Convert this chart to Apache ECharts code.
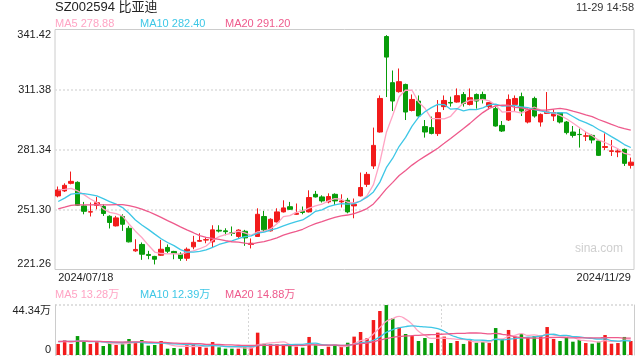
<!DOCTYPE html>
<html>
<head>
<meta charset="utf-8">
<script src="https://cdn.jsdelivr.net/npm/echarts@6/dist/echarts.min.js"></script>
<style>
html,body{margin:0;padding:0;background:#fff;}
#c{width:640px;height:360px;}
</style>
</head>
<body>
<div id="c"></div>
<script>
// ---- data ----
const tradeDays = [
  ["2024/07", [18,19,22,23,24,25,26,29,30,31]],
  ["2024/08", [1,2,5,6,7,8,9,12,13,14,15,16,19,20,21,22,23,26,27,28,29,30]],
  ["2024/09", [2,3,4,5,6,9,10,11,12,13,18,19,20,23,24,25,26,27,30]],
  ["2024/10", [8,9,10,11,14,15,16,17,18,21,22,23,24,25,28,29,30,31]],
  ["2024/11", [1,4,5,6,7,8,11,12,13,14,15,18,19,20,21,22,25,26,27,28,29]]
];
const dates = [];
tradeDays.forEach(([m, days]) => days.forEach(d => dates.push(m + "/" + String(d).padStart(2, "0"))));

const opens = [258.1,260.6,264.4,264.9,253.1,250.0,253.4,252.8,247.9,243.1,
  247.8,241.9,230.6,233.8,228.8,227.8,228.4,232.3,230.3,228.9,
  226.9,232.6,235.4,236.0,235.1,240.9,240.6,239.6,237.8,240.4,
  233.8,237.8,247.8,240.6,245.1,250.1,252.7,248.9,250.4,250.1,
  258.9,257.6,255.1,258.9,255.1,255.9,253.1,258.1,263.9,273.1,
  290.1,337.9,314.8,310.3,313.9,300.9,305.6,292.8,292.3,289.3,
  302.8,304.9,305.1,308.9,303.9,308.9,308.9,302.8,301.8,293.4,
  296.1,303.9,307.8,295.1,306.9,295.1,299.4,298.1,299.8,295.1,
  290.1,288.9,288.0,288.4,285.6,282.4,280.4,280.1,281.4,273.4];
const closes = [261.1,263.4,265.4,253.4,250.4,250.2,254.7,249.3,244.8,247.1,
  243.9,235.1,231.3,228.9,228.3,226.4,231.4,230.4,229.4,226.8,
  231.4,234.9,235.8,236.2,241.1,240.5,240.2,239.3,241.0,237.1,
  234.4,248.9,241.1,246.4,250.1,252.1,251.4,249.4,249.8,257.3,
  257.6,255.6,257.8,255.6,255.6,250.1,253.9,262.3,268.9,283.4,
  306.9,327.6,305.6,315.3,300.1,306.4,298.1,290.1,289.4,299.8,
  305.9,304.6,308.3,304.4,307.3,305.6,306.4,304.8,293.1,290.6,
  306.4,306.9,300.6,301.1,298.1,298.9,300.1,299.8,295.1,289.8,
  288.4,288.8,288.2,286.1,278.4,282.8,280.7,280.6,274.4,275.0];
const lows = [257.4,260.1,263.9,253.1,248.9,247.8,251.4,248.1,241.8,242.8,
  240.6,234.8,230.1,226.1,226.4,223.8,228.1,229.4,226.4,225.6,
  225.6,231.4,235.1,234.4,232.3,239.8,238.4,238.1,237.1,233.1,
  231.8,237.8,240.1,240.3,244.8,249.8,251.1,248.6,248.9,249.8,
  257.3,254.8,254.4,253.6,252.3,249.4,246.9,257.8,262.6,271.6,
  289.8,307.6,300.6,309.8,296.1,300.4,297.8,287.3,288.9,288.1,
  301.1,302.8,304.8,302.8,303.4,301.8,304.4,301.4,292.8,290.1,
  295.6,300.6,298.1,294.4,297.3,292.8,299.2,295.6,294.4,288.9,
  287.3,282.3,285.6,284.4,278.1,281.1,278.1,277.5,273.1,271.8];
const highs = [262.8,264.4,270.3,265.4,255.1,254.8,257.6,253.9,248.4,248.1,
  248.9,243.1,236.4,234.8,230.6,228.1,236.1,233.8,230.6,229.9,
  232.3,238.1,239.4,237.3,243.4,243.4,241.9,242.8,241.4,241.1,
  236.8,251.9,250.6,246.9,251.9,255.9,255.1,254.3,252.8,260.9,
  260.6,258.4,259.4,259.4,258.9,257.1,256.8,269.8,270.1,292.3,
  308.4,338.6,320.9,321.9,314.3,308.9,308.4,296.1,297.8,306.1,
  308.4,307.8,311.9,310.1,311.9,309.4,310.3,305.1,302.8,295.6,
  308.9,308.4,309.8,301.8,307.8,299.4,310.1,301.4,300.1,295.6,
  293.1,291.8,290.3,288.9,286.1,289.4,286.1,281.4,281.8,277.3];
// volume in 万手
const volumes = [9.8,13.0,9.8,16.8,11.8,9.8,11.5,8.0,10.9,8.9,
  10.3,14.2,10.9,13.3,8.3,8.9,12.4,5.6,6.2,5.6,
  8.9,10.6,7.4,6.5,11.5,6.8,5.6,5.6,5.6,7.4,
  6.8,19.8,10.0,9.8,9.5,9.2,8.6,7.4,6.5,16.0,
  8.6,5.3,7.4,8.6,7.4,10.9,16.3,20.4,14.8,31.0,
  39.0,44.3,32.5,24.5,18.6,16.8,12.4,15.1,10.6,19.8,
  16.3,10.6,12.4,9.8,13.9,10.9,11.5,10.6,23.9,14.2,
  22.2,16.3,18.6,15.7,16.8,17.1,24.8,14.2,12.4,15.7,
  11.8,13.3,10.6,10.0,11.8,17.7,10.0,10.6,16.0,12.4];
// closes / volumes of the 19 sessions before the first shown day (estimated, for the moving averages)
const priorCloses = [246,247,249,250,251,253,250,246,244,243,246.5,245.5,249.5,252.0,254.5,261.4,262.9,259.9,259.7];
const priorVolumes = [12,10,13,11,14,12,11,13,15,12,10,11,13,12,14,11,12,13,12];

const yTickMin = 221.26, yTickMax = 341.42, yTickStep = 30.04;
const volMax = 44.34;
const titleText = "SZ002594 比亚迪";
const timeText = "11-29 14:58";
const maTexts = ["MA5 278.88", "MA10 282.40", "MA20 291.20"];
const volMaTexts = ["MA5 13.28万", "MA10 12.39万", "MA20 14.88万"];

// ---- helpers ----
function movingAvg(n, prior, cur) {
  const all = prior.concat(cur);
  const off = prior.length;
  return cur.map((_, i) => {
    let s = 0;
    for (let k = 0; k < n; k++) s += all[off + i - k];
    return +(s / n).toFixed(3);
  });
}
const RED = "#f21b1b", GREEN = "#089c0a";
const C5 = "#ffa4c4", C10 = "#3ec7e6", C20 = "#ee5a8c";
const FONT = "'Liberation Sans', Arial, 'Noto Sans CJK SC', sans-serif";

const kData = opens.map((o, i) => [o, closes[i], lows[i], highs[i]]);
const volData = volumes.map((v, i) => ({value: v, itemStyle: {color: closes[i] >= opens[i] ? RED : GREEN}}));

const chart = echarts.init(document.getElementById('c'), null, {renderer: 'canvas'});
const txt = (text, left, top, color, size, extra) => Object.assign({
  text: text, left: left, top: top, padding: 0,
  textStyle: {color: color, fontSize: size, fontWeight: 'normal', fontFamily: FONT}
}, extra || {});

chart.setOption({
  animation: false,
  backgroundColor: '#fff',
  title: [
    txt(titleText, 55, 1, '#222', 13),
    txt(timeText, null, 2, '#333', 11, {right: 6}),
    txt(maTexts[0], 55, 18, C5, 11),
    txt(maTexts[1], 140, 18, C10, 11),
    txt(maTexts[2], 225, 18, C20, 11),
    txt(volMaTexts[0], 55, 289, C5, 11),
    txt(volMaTexts[1], 140, 289, C10, 11),
    txt(volMaTexts[2], 225, 289, C20, 11)
  ],
  graphic: [{
    type: 'text', right: 17, top: 243,
    style: {text: 'sina.com', fill: '#cfcfcf', font: "12px " + FONT}
  }],
  grid: [
    {left: 55, right: 6, top: 29.5, height: 240, show: true, borderColor: '#cccccc', borderWidth: 1},
    {left: 55, right: 6, top: 305, height: 50, show: false}
  ],
  xAxis: [
    {type: 'category', data: dates, gridIndex: 0, boundaryGap: true,
     axisLine: {show: false}, axisTick: {show: false}, splitLine: {show: false},
     axisLabel: {interval: (i) => i === 0 || i === dates.length - 1, color: '#222', fontSize: 11, fontFamily: FONT,
       margin: 3, alignMinLabel: 'left', alignMaxLabel: 'right', showMinLabel: true, showMaxLabel: true}},
    {type: 'category', data: dates, gridIndex: 1, boundaryGap: true,
     axisLine: {show: false}, axisTick: {show: false}, axisLabel: {show: false},
     splitLine: {show: true, interval: (i) => i === 30 || i === 60, lineStyle: {color: '#d6d6d6', type: [2, 2], width: 1}}}
  ],
  yAxis: [
    {type: 'value', gridIndex: 0, min: yTickMin, max: yTickMax, interval: yTickStep, scale: true,
     axisLine: {show: false}, axisTick: {show: false},
     axisLabel: {color: '#222', fontSize: 11, fontFamily: FONT, margin: 4,
       formatter: (v) => v.toFixed(2), verticalAlignMaxLabel: 'top', verticalAlignMinLabel: 'bottom'},
     splitLine: {show: true, showMinLine: false, showMaxLine: false, lineStyle: {color: '#dddddd', type: [2, 2], width: 1.5}}},
    {type: 'value', gridIndex: 1, min: 0, max: volMax, interval: volMax,
     axisLine: {show: true, lineStyle: {color: '#cccccc'}}, axisTick: {show: false},
     axisLabel: {color: '#222', fontSize: 11, fontFamily: FONT, margin: 4,
       formatter: (v) => v === 0 ? '0' : v.toFixed(2) + '万', verticalAlignMaxLabel: 'top', verticalAlignMinLabel: 'bottom'},
     splitLine: {show: true, lineStyle: {color: '#d6d6d6', type: [2, 2], width: 1.5}}},
    {type: 'value', gridIndex: 1, position: 'right', min: 0, max: volMax, interval: volMax,
     axisLine: {show: true, lineStyle: {color: '#cccccc'}}, axisTick: {show: false},
     axisLabel: {show: false}, splitLine: {show: false}}
  ],
  series: [
    {type: 'candlestick', xAxisIndex: 0, yAxisIndex: 0, data: kData, barWidth: 5,
     itemStyle: {color: RED, color0: GREEN, borderColor: RED, borderColor0: GREEN, borderWidth: 1}},
    {type: 'line', xAxisIndex: 0, yAxisIndex: 0, data: movingAvg(5, priorCloses, closes), symbol: 'none', smooth: false,
     lineStyle: {color: C5, width: 1.3}},
    {type: 'line', xAxisIndex: 0, yAxisIndex: 0, data: movingAvg(10, priorCloses, closes), symbol: 'none',
     lineStyle: {color: C10, width: 1.3}},
    {type: 'line', xAxisIndex: 0, yAxisIndex: 0, data: movingAvg(20, priorCloses, closes), symbol: 'none',
     lineStyle: {color: C20, width: 1.3}},
    {type: 'bar', xAxisIndex: 1, yAxisIndex: 1, data: volData, barWidth: 3.5},
    {type: 'line', xAxisIndex: 1, yAxisIndex: 1, data: movingAvg(5, priorVolumes, volumes), symbol: 'none', smooth: true,
     lineStyle: {color: C5, width: 1.3}},
    {type: 'line', xAxisIndex: 1, yAxisIndex: 1, data: movingAvg(10, priorVolumes, volumes), symbol: 'none', smooth: true,
     lineStyle: {color: C10, width: 1.3}},
    {type: 'line', xAxisIndex: 1, yAxisIndex: 1, data: movingAvg(20, priorVolumes, volumes), symbol: 'none', smooth: true,
     lineStyle: {color: C20, width: 1.3}}
  ]
});
</script>
</body>
</html>
